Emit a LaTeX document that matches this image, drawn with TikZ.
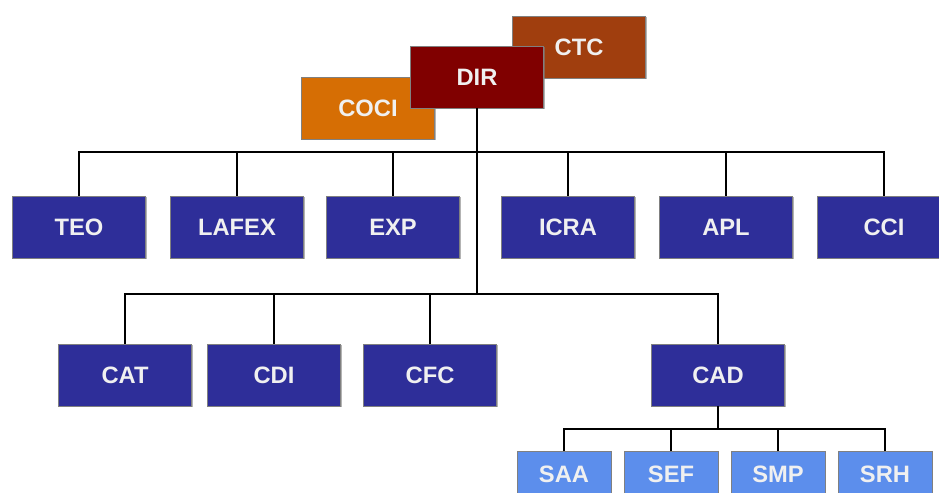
\documentclass[tikz,border=0pt]{standalone}
\usepackage{fontspec}
\setmainfont{Liberation Sans}
\usetikzlibrary{shadows}
\definecolor{unitblue}{RGB}{46,46,153}
\definecolor{secblue}{RGB}{92,142,236}
\definecolor{cocicol}{RGB}{214,110,4}
\definecolor{dircol}{RGB}{128,0,0}
\definecolor{ctccol}{RGB}{160,62,14}
\tikzset{
  box/.style={rectangle,minimum width=2.66cm,minimum height=1.24cm,
    text=white!94!black,font=\fontsize{13.5}{16}\selectfont\bfseries,
    draw=black!50,line width=0.3pt,
    drop shadow={shadow xshift=0.8pt,shadow yshift=-0.8pt,opacity=0.6}},
  unit/.style={box,fill=unitblue},
  sec/.style={box,fill=secblue,minimum width=1.88cm,minimum height=0.9cm},
  link/.style={line width=1.1pt,black}
}
\begin{document}
\begin{tikzpicture}[x=0.02cm,y=-0.02cm]
	\useasboundingbox (0,0) rectangle (939,493);
	\clip (0,0) rectangle (939,493);
	% direction
	\node[box,fill=ctccol] (ctc) at (579,47) {CTC};
	\node[box,fill=cocicol] (coci) at (368,108) {COCI};
	\node[box,fill=dircol] (dir) at (477,77) {DIR};
	% first row
	\node[unit] (teo) at (79,227) {TEO};
	\node[unit] (lafex) at (237,227) {LAFEX};
	\node[unit] (exp) at (393,227) {EXP};
	\node[unit] (icra) at (568,227) {ICRA};
	\node[unit] (apl) at (726,227) {APL};
	\node[unit] (cci) at (884,227) {CCI};
	% second row
	\node[unit] (cat) at (125,375) {CAT};
	\node[unit] (cdi) at (274,375) {CDI};
	\node[unit] (cfc) at (430,375) {CFC};
	\node[unit] (cad) at (718,375) {CAD};
	% sections
	\node[sec] (saa) at (564,474) {SAA};
	\node[sec] (sef) at (671,474) {SEF};
	\node[sec] (smp) at (778,474) {SMP};
	\node[sec] (srh) at (885,474) {SRH};
	\coordinate (busa) at (477,152);
	\coordinate (busb) at (477,294);
	\coordinate (busc) at (718,429);
	\draw[link] (dir.south) -- (busb);
	\foreach \n in {teo,lafex,exp,icra,apl,cci}
	  \draw[link] (\n.north) |- (busa);
	\foreach \n in {cat,cdi,cfc,cad}
	  \draw[link] (\n.north) |- (busb);
	\draw[link] (cad.south) -- (busc);
	\foreach \n in {saa,sef,smp,srh}
	  \draw[link] (\n.north) |- (busc);
\end{tikzpicture}
\end{document}
